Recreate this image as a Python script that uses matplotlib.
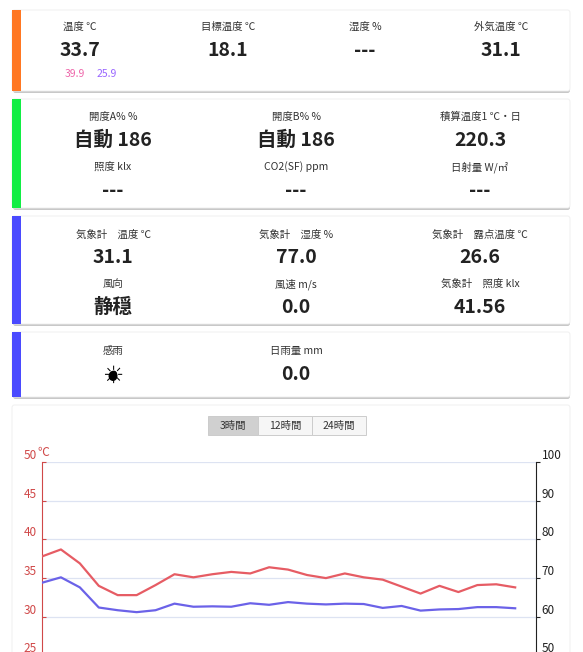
import matplotlib
matplotlib.use("Agg")
import matplotlib.pyplot as plt
from matplotlib.patches import Rectangle, FancyBboxPatch, Circle
import numpy as np

plt.rcParams['font.family'] = ['Noto Sans CJK JP', 'DejaVu Sans']

W, H = 583, 652
temp = [37.8, 38.7, 36.9, 34.0, 32.8, 32.8, 34.1, 35.5, 35.1, 35.5, 35.8, 35.6, 36.4,
        36.1, 35.4, 35.0, 35.6, 35.1, 34.8, 33.9, 33.0, 34.0, 33.2, 34.1, 34.2, 33.8]
humid = [68.8, 70.2, 67.6, 62.4, 61.7, 61.2, 61.7, 63.4, 62.6, 62.7, 62.6, 63.5, 63.1,
         63.8, 63.4, 63.2, 63.4, 63.3, 62.3, 62.8, 61.6, 61.9, 62.0, 62.5, 62.5, 62.2]
left_ticks = [25, 30, 35, 40, 45, 50]
right_ticks = [50, 60, 70, 80, 90, 100]
buttons = ["3時間", "12時間", "24時間"]

fig = plt.figure(figsize=(W/100, H/100), dpi=100)
fig.patch.set_facecolor('white')

def fy(y): return 1 - y/H
def fx(x): return x/W

def card(y0, y1, accent=None):
    sh = FancyBboxPatch((fx(13), fy(y1+2)), fx(557), (y1-y0)/H, boxstyle="round,pad=0,rounding_size=0.004",
                        transform=fig.transFigure, fc='#c8c8c8', ec='none', zorder=0)
    fig.add_artist(sh)
    r = FancyBboxPatch((fx(12), fy(y1)), fx(558), (y1-y0)/H, boxstyle="round,pad=0,rounding_size=0.004",
                       transform=fig.transFigure, fc='white', ec='#eeeeee', lw=0.6, zorder=1)
    fig.add_artist(r)
    if accent:
        fig.add_artist(Rectangle((fx(12), fy(y1)), fx(9), (y1-y0)/H, transform=fig.transFigure,
                                 fc=accent, ec='none', zorder=2))

def label(x, y, s, size=7.5, color='#333333', weight='normal'):
    fig.text(fx(x), fy(y), s, ha='center', va='center', fontsize=size, color=color, weight=weight, zorder=5)

def value(x, y, s):
    label(x, y, s, size=14, color='#222222', weight='bold')

card(10, 91, '#ff7722')
card(99, 208, '#11ee44')
card(216, 324, '#4a4aff')
card(332, 397, '#4a4aff')
card(405, 700)

for x, l, v in [(80, "温度 ℃", "33.7"), (228, "目標温度 ℃", "18.1"), (365, "湿度 %", "---"), (501, "外気温度 ℃", "31.1")]:
    label(x, 27, l); value(x, 51, v)
label(75, 74, "39.9", size=7.5, color='#ee66aa')
label(107, 74, "25.9", size=7.5, color='#9966ff')

cols = [113, 296, 480]
for x, l, v in zip(cols, ["開度A% %", "開度B% %", "積算温度1 ℃・日"], ["自動 186", "自動 186", "220.3"]):
    label(x, 117, l); value(x, 140, v)
for x, l in zip(cols, ["照度 klx", "CO2(SF) ppm", "日射量 W/㎡"]):
    label(x, 167, l); value(x, 191, "---")
for x, l, v in zip(cols, ["気象計　温度 ℃", "気象計　湿度 %", "気象計　露点温度 ℃"], ["31.1", "77.0", "26.6"]):
    label(x, 235, l); value(x, 258, v)
for x, l, v in zip(cols, ["風向", "風速 m/s", "気象計　照度 klx"], ["静穏", "0.0", "41.56"]):
    label(x, 284, l); value(x, 307, v)
label(113, 351, "感雨"); label(296, 351, "日雨量 mm")
fig.text(fx(113), fy(376), "☀", ha='center', va='center', fontsize=17, color='black',
         family=['DejaVu Sans'], weight='bold', zorder=5)
fig.add_artist(Circle((fx(113), fy(376)), 5/H, transform=fig.transFigure, fc='black', ec='none', zorder=6))
value(296, 375, "0.0")

bx = [208, 258, 312, 366]
for i, b in enumerate(buttons):
    fig.add_artist(Rectangle((fx(bx[i]), fy(435)), fx(bx[i+1]-bx[i]), 19/H, transform=fig.transFigure,
                             fc='#d0d0d0' if i == 0 else '#f6f6f6', ec='#cccccc', lw=0.7, zorder=3))
    label((bx[i]+bx[i+1])/2, 425.5, b, size=7.5, color='#333333')

top, span = 462, 387
ax = fig.add_axes([fx(42), fy(top+span), fx(536-42), span/H])
ax.set_zorder(4); ax.patch.set_alpha(0)
x = np.arange(len(temp))
ax.set_xlim(0, 26.1)
ax.set_ylim(0, 50)
ax2 = ax.twinx()
ax2.set_ylim(0, 100)
ax.plot(x, temp, color='#e65c64', lw=1.6, zorder=5)
ax2.plot(x, humid, color='#6b62e8', lw=1.6, zorder=5)
ax.set_yticks(left_ticks)
ax2.set_yticks(right_ticks)
for t in left_ticks:
    ax.axhline(t, color='#dde3f2', lw=0.9, zorder=1)
ax.set_xticks([])
for s in ['top', 'bottom', 'right']:
    ax.spines[s].set_visible(False)
for s in ['top', 'bottom', 'left']:
    ax2.spines[s].set_visible(False)
ax.spines['left'].set_color('#d04848')
ax2.spines['right'].set_color('#222222')
ax.tick_params(axis='y', colors='#d04848', labelsize=8.5, length=3, direction='in', pad=4)
ax2.tick_params(axis='y', colors='#222222', labelsize=8.5, length=3, pad=1)
for lab in ax.get_yticklabels():
    lab.set_verticalalignment('bottom')
for lab in ax2.get_yticklabels():
    lab.set_verticalalignment('bottom')
fig.text(fx(43), fy(452), "℃", ha='center', va='center', fontsize=8.5, color='#d04848', zorder=6)

fig.savefig("out.png", dpi=100)
